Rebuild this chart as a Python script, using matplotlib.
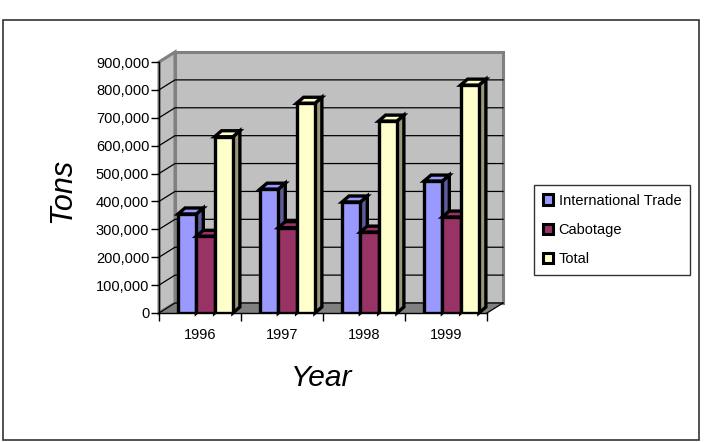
import matplotlib
matplotlib.use('Agg')
import matplotlib.pyplot as plt
from matplotlib.patches import Polygon, Patch, Rectangle
from matplotlib.ticker import FuncFormatter

plt.rcParams['font.family'] = ['Liberation Sans', 'DejaVu Sans']

## Data ##
years = ['1996', '1997', '1998', '1999']
intl_trade = [355000, 444000, 398000, 473000]
cabotage = [275000, 306000, 290000, 344000]
total = [632000, 752000, 688000, 817000]
series_names = ['International Trade', 'Cabotage', 'Total']
front_colors = ['#9999FF', '#993366', '#FFFFCC']
side_colors = ['#5c5c99', '#5c1f3d', '#99997a']

W, H = 704, 442
fig = plt.figure(figsize=(W / 100, H / 100), dpi=100)

# outer chart border
fig.patches.append(Rectangle((3 / W, 2 / H), 696 / W, 420 / H, transform=fig.transFigure,
                             fill=False, edgecolor='#333333', linewidth=1.2))

# front plane of the pseudo-3d plot
ax = fig.add_axes([159 / W, 1 - 313 / H, 328 / W, 251 / H])
ymax = 900000
ax.set_xlim(0, len(years))
ax.set_ylim(0, ymax)
ax.patch.set_visible(False)

# depth of walls and bars (pixels -> data units)
px_x = len(years) / 328
px_y = ymax / 251
DX, DY = 16 * px_x, 10 * px_y
BDX, BDY = 7 * px_x, 6 * px_y
xr = len(years)

# walls + floor
ax.add_patch(Polygon([(DX, DY), (xr + DX, DY), (xr + DX, ymax + DY), (DX, ymax + DY)],
                     facecolor='#c0c0c0', edgecolor='#808080', linewidth=2.2,
                     clip_on=False, zorder=0))
ax.add_patch(Polygon([(0, 0), (DX, DY), (DX, ymax + DY), (0, ymax)],
                     facecolor='#c0c0c0', edgecolor='#808080', linewidth=2.2,
                     clip_on=False, zorder=0))
ax.add_patch(Polygon([(0, 0), (xr, 0), (xr + DX, DY), (DX, DY)],
                     facecolor='#808080', edgecolor='none', clip_on=False, zorder=1))
ax.plot([xr, xr + DX], [0, DY], color='black', linewidth=0.9, clip_on=False, zorder=1)

# gridlines on side + back wall
for v in range(0, ymax, 100000):
    ax.plot([0, DX, xr + DX], [v, v + DY, v + DY], color='black', linewidth=0.9,
            clip_on=False, zorder=1)

# bars
bar_w = 0.223
for i in range(len(years)):
    vals = [intl_trade[i], cabotage[i], total[i]]
    for j, v in enumerate(vals):
        x0 = i + 0.232 + j * bar_w
        x1 = x0 + bar_w
        ax.add_patch(Polygon([(x1, 0), (x1 + BDX, BDY), (x1 + BDX, v + BDY), (x1, v)],
                             facecolor=side_colors[j], edgecolor='black', linewidth=2.4,
                             clip_on=False, zorder=3))
        ax.add_patch(Polygon([(x0, v), (x1, v), (x1 + BDX, v + BDY), (x0 + BDX, v + BDY)],
                             facecolor=front_colors[j], edgecolor='black', linewidth=2.4,
                             clip_on=False, zorder=3))
        ax.bar(x0, v, width=bar_w, align='edge', color=front_colors[j],
               edgecolor='black', linewidth=2.4, zorder=3)

# axes
for s in ['top', 'right']:
    ax.spines[s].set_visible(False)
for s in ['left', 'bottom']:
    ax.spines[s].set_color('black')
    ax.spines[s].set_linewidth(1)
ax.set_yticks(range(0, ymax + 1, 100000))
ax.yaxis.set_major_formatter(FuncFormatter(lambda v, p: f'{int(v):,}'))
ax.tick_params(axis='y', direction='out', length=6, width=1, labelsize=10.5, pad=1)
ax.set_xticks(range(len(years) + 1))
ax.set_xticklabels([])
ax.set_xticks([i + 0.5 for i in range(len(years))], minor=True)
ax.set_xticklabels(years, minor=True)
ax.tick_params(axis='x', which='major', direction='out', length=6, width=1)
ax.tick_params(axis='x', which='minor', length=0, labelsize=10.5, pad=11)

fig.text(62 / W, 1 - 190 / H, 'Tons', rotation=90, style='italic', fontsize=22,
         ha='center', va='center')
fig.text(322 / W, 1 - 378 / H, 'Year', style='italic', fontsize=21.5,
         ha='center', va='center')

handles = [Patch(facecolor=c, edgecolor='black', linewidth=2.2) for c in front_colors]
leg = fig.legend(handles, series_names, loc='center',
                 bbox_to_anchor=(612 / W, 1 - 230 / H), fontsize=10.5,
                 frameon=True, fancybox=False, shadow=False,
                 handlelength=0.7, handleheight=0.7, handletextpad=0.4,
                 labelspacing=1.05, borderpad=0.6, borderaxespad=0)
leg.get_frame().set_edgecolor('black')
leg.get_frame().set_linewidth(1)

fig.savefig('out.png', dpi=100)
